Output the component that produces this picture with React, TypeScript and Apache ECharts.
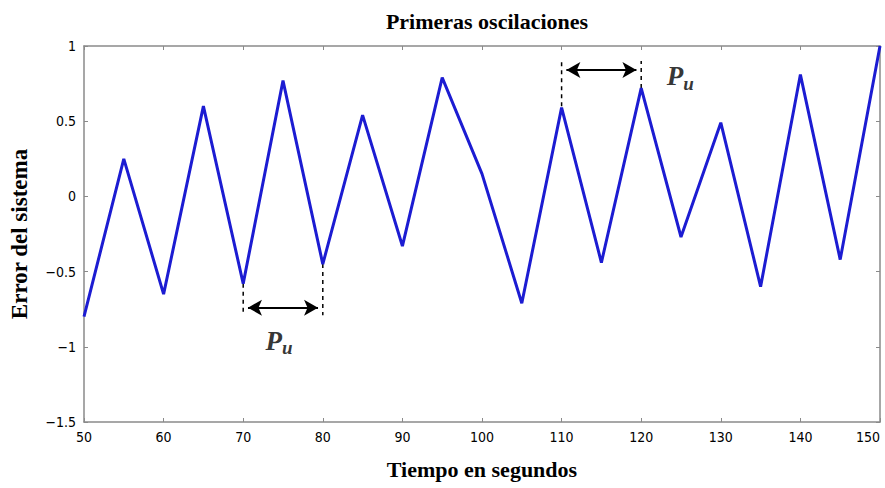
import React, { useEffect, useRef } from "react";
import * as echarts from "echarts";

const timeValues = [50, 55, 60, 65, 70, 75, 80, 85, 90, 95, 100, 105, 110, 115, 120, 125, 130, 135, 140, 145, 150];
const errorValues = [-0.8, 0.25, -0.65, 0.6, -0.58, 0.77, -0.45, 0.54, -0.33, 0.79, 0.15, -0.71, 0.59, -0.44, 0.72, -0.27, 0.49, -0.6, 0.81, -0.42, 1.0];

// annotation guides (data coordinates)
const dashGuides = [
  [[70, -0.58], [70, -0.79]],
  [[80, -0.45], [80, -0.79]],
  [[110, 0.6], [110, 0.9]],
  [[120, 0.72], [120, 0.9]],
];
const arrowSpans = [
  [[70.6, -0.74], [79.4, -0.74]],
  [[110.6, 0.84], [119.4, 0.84]],
];
const puLabels = [
  [74.5, -0.96],
  [124.9, 0.8],
];

const TITLE = "Primeras oscilaciones";
const XNAME = "Tiempo en segundos";
const YNAME = "Error del sistema";

const tickFont = "'Liberation Sans Narrow', 'DejaVu Sans Condensed', 'Liberation Sans', sans-serif";
const serif = "'Liberation Serif', 'DejaVu Serif', serif";

export default function App() {
  const ref = useRef<HTMLDivElement>(null);
  useEffect(() => {
    if (!ref.current) return;
    const chart = echarts.init(ref.current, null, { renderer: "svg" });
    const fmt = (v: number) => String(v).replace("-", "\u2212");
    const axisLine = { show: true, onZero: false, lineStyle: { color: "#8a8a8a", width: 1.5 } };
    const axisTick = { show: true, inside: true, length: 4, lineStyle: { color: "#8a8a8a" } };
    const series: any[] = [
      {
        type: "line",
        data: timeValues.map((t, i) => [t, errorValues[i]]),
        symbol: "none",
        lineStyle: { color: "#1c1cd2", width: 3 },
        z: 3,
      },
    ];
    dashGuides.forEach((seg) => {
      series.push({
        type: "line",
        data: seg,
        symbol: "none",
        lineStyle: { color: "#000", width: 1.5, type: [4, 4] },
        z: 2,
      });
    });
    series.push({
      type: "line",
      data: [],
      markLine: {
        silent: true,
        symbol: ["arrow", "arrow"],
        symbolSize: [12, 14],
        label: { show: false },
        lineStyle: { color: "#000", width: 2, type: "solid" },
        data: arrowSpans.map((s) => [{ coord: s[0] }, { coord: s[1] }]),
      },
    });
    series.push({
      type: "scatter",
      data: puLabels,
      symbolSize: 0,
      label: {
        show: true,
        position: "inside",
        formatter: "{p|P}{u|u}",
        rich: {
          p: { fontFamily: serif, fontStyle: "italic", fontWeight: "bold", fontSize: 27, color: "#000" },
          u: { fontFamily: serif, fontStyle: "italic", fontWeight: "bold", fontSize: 19, color: "#000", padding: [14, 0, 0, 0] },
        },
      },
    });
    chart.setOption({
      animation: false,
      backgroundColor: "#fff",
      title: {
        text: TITLE,
        left: 482,
        textAlign: "center",
        top: 5,
        textStyle: { fontFamily: serif, fontWeight: "bold", fontSize: 22, color: "#000" },
      },
      grid: { left: 84, right: 5, top: 46, bottom: 66, containLabel: false, outerBoundsMode: "none" },
      xAxis: [
        {
          type: "value",
          min: 50,
          max: 150,
          interval: 10,
          name: XNAME,
          nameLocation: "middle",
          nameGap: 36,
          nameTextStyle: { fontFamily: serif, fontWeight: "bold", fontSize: 22, color: "#000" },
          axisLine,
          axisTick,
          splitLine: { show: false },
          axisLabel: { color: "#000", fontFamily: tickFont, fontSize: 14, margin: 8, alignMaxLabel: "right" },
        },
        {
          type: "value",
          position: "top",
          min: 50,
          max: 150,
          interval: 10,
          axisLine,
          axisTick,
          splitLine: { show: false },
          axisLabel: { show: false },
        },
      ],
      yAxis: [
        {
          type: "value",
          min: -1.5,
          max: 1,
          interval: 0.5,
          name: YNAME,
          nameLocation: "middle",
          nameGap: 53,
          nameRotate: 90,
          nameTextStyle: { fontFamily: serif, fontWeight: "bold", fontSize: 23, color: "#000" },
          axisLine,
          axisTick,
          splitLine: { show: false },
          axisLabel: { color: "#000", fontFamily: tickFont, fontSize: 14, margin: 8, formatter: fmt },
        },
        {
          type: "value",
          position: "right",
          min: -1.5,
          max: 1,
          interval: 0.5,
          axisLine,
          axisTick,
          splitLine: { show: false },
          axisLabel: { show: false },
        },
      ],
      series,
    });
    return () => chart.dispose();
  }, []);
  return <div ref={ref} style={{ position: "fixed", left: 0, top: 0, width: 885, height: 488 }} />;
}
